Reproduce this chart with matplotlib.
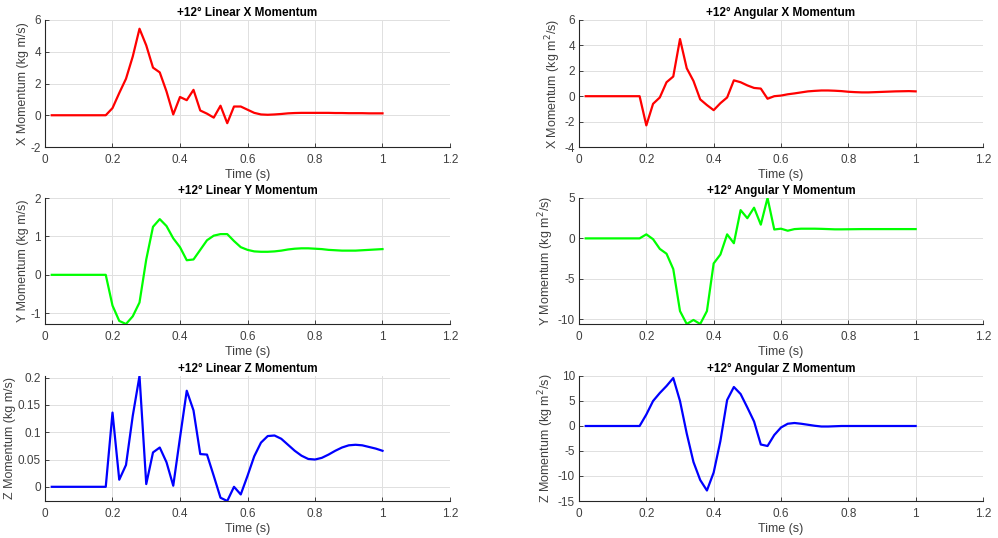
import numpy as np
import matplotlib
matplotlib.use("Agg")
import matplotlib.pyplot as plt
from matplotlib.ticker import FuncFormatter

plt.rcParams['font.family'] = ['Liberation Sans', 'DejaVu Sans']

# Time axis (s)
time = [round(0.02 * i, 2) for i in range(1, 51)]

zeros = [0.0] * 9  # 0.02 .. 0.18

lin_x = zeros + [0.45, 1.4, 2.3, 3.7, 5.45, 4.4, 3.0, 2.7, 1.5, 0.05,
                 1.15, 0.95, 1.6, 0.3, 0.1, -0.15, 0.6, -0.5, 0.55, 0.55,
                 0.35, 0.15, 0.05, 0.03, 0.05, 0.08, 0.12, 0.14, 0.15, 0.15,
                 0.15, 0.15, 0.15, 0.14, 0.14, 0.13, 0.13, 0.13, 0.12, 0.12,
                 0.12]
ang_x = zeros + [-2.3, -0.6, -0.1, 1.1, 1.55, 4.5, 2.2, 1.2, -0.25, -0.7,
                 -1.1, -0.55, -0.1, 1.25, 1.1, 0.85, 0.65, 0.6, -0.2, 0.0,
                 0.05, 0.15, 0.22, 0.3, 0.38, 0.42, 0.45, 0.45, 0.43, 0.4,
                 0.35, 0.32, 0.3, 0.3, 0.32, 0.34, 0.36, 0.38, 0.39, 0.4,
                 0.38]
lin_y = zeros + [-0.8, -1.2, -1.28, -1.08, -0.72, 0.4, 1.25, 1.45, 1.27, 0.95,
                 0.72, 0.38, 0.4, 0.65, 0.9, 1.02, 1.06, 1.06, 0.88, 0.72,
                 0.65, 0.61, 0.6, 0.6, 0.61, 0.63, 0.66, 0.68, 0.69, 0.69,
                 0.68, 0.67, 0.65, 0.64, 0.63, 0.63, 0.63, 0.64, 0.65, 0.66,
                 0.67]
ang_y = zeros + [0.5, -0.1, -1.3, -1.9, -3.8, -9.0, -10.6, -10.1, -10.6, -9.0,
                 -3.1, -2.0, 0.5, -0.6, 3.5, 2.5, 3.8, 1.7, 5.0, 1.1,
                 1.2, 0.95, 1.15, 1.2, 1.2, 1.2, 1.18, 1.15, 1.12, 1.12,
                 1.13, 1.14, 1.15, 1.15, 1.15, 1.15, 1.15, 1.15, 1.15, 1.15,
                 1.15]
lin_z = zeros + [0.136, 0.013, 0.04, 0.13, 0.203, 0.005, 0.063, 0.072, 0.045, 0.002,
                 0.09, 0.176, 0.14, 0.06, 0.059, 0.02, -0.02, -0.026, 0.0, -0.014,
                 0.02, 0.056, 0.081, 0.093, 0.094, 0.088, 0.077, 0.066, 0.057, 0.051,
                 0.05, 0.053, 0.059, 0.066, 0.072, 0.076, 0.077, 0.076, 0.073, 0.07,
                 0.066]
ang_z = zeros + [2.3, 5.0, 6.6, 8.0, 9.6, 5.0, -1.5, -7.2, -10.8, -12.9,
                 -9.3, -3.0, 5.2, 7.8, 6.4, 3.7, 0.9, -3.7, -4.0, -1.8,
                 -0.3, 0.45, 0.6, 0.45, 0.25, 0.05, -0.1, -0.1, -0.05, 0.0,
                 0.0, 0.0, 0.0, 0.0, 0.0, 0.0, 0.0, 0.0, 0.0, 0.0,
                 0.0]

panels = [
    (lin_x, 'r', '+12° Linear X Momentum', 'X Momentum (kg m/s)', (-2, 6), [-2, 0, 2, 4, 6]),
    (ang_x, 'r', '+12° Angular X Momentum', 'X Momentum (kg m$^2$/s)', (-4, 6), [-4, -2, 0, 2, 4, 6]),
    (lin_y, 'g', '+12° Linear Y Momentum', 'Y Momentum (kg m/s)', (min(lin_y), 2), [-1, 0, 1, 2]),
    (ang_y, 'g', '+12° Angular Y Momentum', 'Y Momentum (kg m$^2$/s)', (min(ang_y), max(ang_y)), [-10, -5, 0, 5]),
    (lin_z, 'b', '+12° Linear Z Momentum', 'Z Momentum (kg m/s)', (min(lin_z), max(lin_z)), [0, 0.05, 0.1, 0.15, 0.2]),
    (ang_z, 'b', '+12° Angular Z Momentum', 'Z Momentum (kg m$^2$/s)', (-15, 10), [-15, -10, -5, 0, 5, 10]),
]
colors = {'r': (1, 0, 0), 'g': (0, 1, 0), 'b': (0, 0, 1)}

W, H = 998, 538
fig = plt.figure(figsize=(W / 100, H / 100), dpi=100)
fig.patch.set_facecolor('white')

cols = [(45, 450), (579, 983)]
rows = [(20, 147), (198, 324), (376, 501)]

g = FuncFormatter(lambda v, p: ('%g' % round(v, 4)))
dark = (0.15, 0.15, 0.15)

for i, (vals, c, title, ylabel, ylim, yticks) in enumerate(panels):
    x0, x1 = cols[i % 2]
    y0, y1 = rows[i // 2]
    ax = fig.add_axes([x0 / W, 1 - y1 / H, (x1 - x0) / W, (y1 - y0) / H])
    ax.plot(time, vals, color=colors[c], lw=1.6, zorder=3)
    ax.set_xlim(0, 1.2)
    ax.set_ylim(*ylim)
    ax.set_xticks(np.arange(0, 1.21, 0.2))
    ax.set_yticks(yticks)
    ax.xaxis.set_major_formatter(g)
    ax.yaxis.set_major_formatter(g)
    ax.grid(True, color=(0.88, 0.88, 0.88), lw=0.7, zorder=0)
    ax.set_axisbelow(True)
    for s in ['top', 'right']:
        ax.spines[s].set_visible(False)
    for s in ['left', 'bottom']:
        ax.spines[s].set_color(dark)
        ax.spines[s].set_linewidth(0.8)
    ax.tick_params(direction='in', length=3, width=0.6, labelsize=8.5,
                   colors=dark, labelcolor=(0.25, 0.25, 0.25))
    ax.tick_params(axis='x', pad=5)
    ax.tick_params(axis='y', pad=3)
    ax.set_title(title, fontsize=8.5, fontweight='bold', pad=3)
    ax.set_xlabel('Time (s)', fontsize=9, color=(0.25, 0.25, 0.25), labelpad=2)
    ax.set_ylabel(ylabel, fontsize=9, color=(0.25, 0.25, 0.25), labelpad=1)

fig.savefig('out.png', dpi=100)
